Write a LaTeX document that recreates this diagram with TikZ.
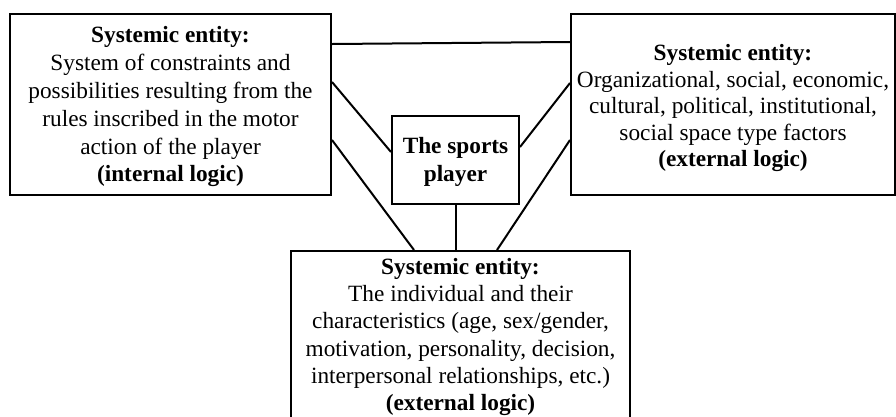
\documentclass[tikz,border=0pt]{standalone}
\usepackage{fontspec}
\setmainfont{Liberation Serif}
\begin{document}
\begin{tikzpicture}[x=1pt,y=-1pt,
  box/.style={draw=black, line width=2pt, rectangle, align=center, inner sep=0pt},
  link/.style={line width=2pt, black}]
\useasboundingbox (0,0) rectangle (896,416);
\node[box, minimum width=321pt, minimum height=181pt, font=\fontsize{23.3}{27.8}\selectfont] (L) at (170.5,104.5)
  {\rule{0pt}{21pt}\textbf{Systemic entity:}\\System of constraints and\\possibilities resulting from the\\rules inscribed in the motor\\action of the player\\\textbf{(internal logic)}};
\node[box, minimum width=324pt, minimum height=181pt, font=\fontsize{23.3}{26.5}\selectfont] (R) at (733,104.5)
  {\rule{0pt}{24pt}\textbf{Systemic entity:}\\Organizational, social, economic,\\cultural, political, institutional,\\social space type factors\\\textbf{(external logic)}};
\node[box, minimum width=127pt, minimum height=88pt, font=\fontsize{23.3}{28}\selectfont\bfseries] (C) at (455.5,160)
  {\rule{0pt}{20pt}The sports\\player};
\node[box, minimum width=339pt, minimum height=172pt, anchor=north, font=\fontsize{23.3}{27.2}\selectfont] (B) at (460.5,250)
  {\textbf{Systemic entity:}\\The individual and their\\characteristics (age, sex/gender,\\motivation, personality, decision,\\interpersonal relationships, etc.)\\\textbf{(external logic)}};
\draw[link] ([yshift=-31pt]L.north east) -- ([yshift=-29pt]R.north west);
\draw[link] ([yshift=-69pt]L.north east) -- ([yshift=-37pt]C.north west);
\draw[link] ([yshift=-127pt]L.north east) -- ([xshift=124pt]B.north west);
\draw[link] (C.south) -- (C.south |- B.north);
\draw[link] ([yshift=-70pt]R.north west) -- ([yshift=-32pt]C.north east);
\draw[link] ([yshift=-127pt]R.north west) -- ([xshift=207pt]B.north west);
\end{tikzpicture}
\end{document}
